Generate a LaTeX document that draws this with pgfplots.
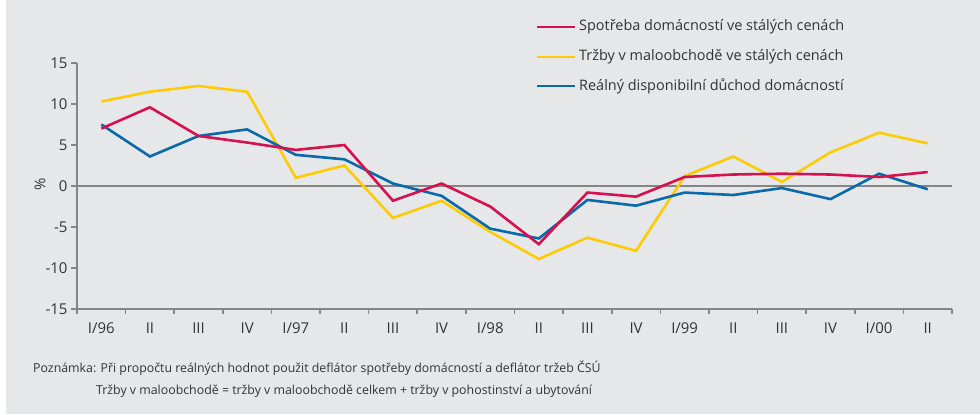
\documentclass[border=0pt]{standalone}
\usepackage{fontspec}
\setmainfont{Open Sans}
\usepackage{pgfplots}
\pgfplotsset{compat=1.18}
\definecolor{bgc}{HTML}{E6E7E9}
\definecolor{cred}{HTML}{D6114F}
\definecolor{cyel}{HTML}{FFCB05}
\definecolor{cblu}{HTML}{0A69A8}
\definecolor{axc}{HTML}{858585}
\begin{document}
\begin{tikzpicture}[x=1bp,y=1bp]
\useasboundingbox (0,0) rectangle (980,414);
\fill[white] (0,0) rectangle (980,414);
\fill[bgc] (6,0) rectangle (980,414);
\begin{axis}[
  at={(77bp,105bp)}, anchor=south west,
  scale only axis, width=875bp, height=246bp,
  xmin=0, xmax=18, ymin=-15, ymax=15,
  axis lines*=left,
  axis line style={axc, line width=2bp, -},
  xtick={0.5,1.5,...,17.5},
  xticklabels={I/96,II,III,IV,I/97,II,III,IV,I/98,II,III,IV,I/99,II,III,IV,I/00,II},
  minor xtick={0,1,...,18},
  ytick={-15,-10,...,15},
  tick align=outside,
  major x tick style={draw=none},
  minor tick length=5bp, major tick length=6bp,
  tick style={axc, line width=1.6bp},
  x tick label style={font=\fontsize{15}{17}\selectfont\color{black!80}, yshift=-4bp},
  y tick label style={font=\fontsize{15}{17}\selectfont\color{black!80}},
  /pgf/number format/assume math mode=true,
  clip=false,
]
\draw[axc, line width=1.3bp] (axis cs:0,0) -- (axis cs:18,0);
\addplot[cyel, line width=2.6bp] coordinates {
(0.5,10.3)(1.5,11.5)(2.5,12.2)(3.5,11.5)(4.5,1.0)(5.5,2.5)(6.5,-3.9)(7.5,-1.8)(8.5,-5.6)(9.5,-8.9)(10.5,-6.3)(11.5,-7.9)(12.5,1.2)(13.5,3.6)(14.5,0.5)(15.5,4.1)(16.5,6.5)(17.5,5.2)};
\addplot[cblu, line width=2.6bp] coordinates {
(0.5,7.5)(1.5,3.6)(2.5,6.1)(3.5,6.9)(4.5,3.8)(5.5,3.25)(6.5,0.3)(7.5,-1.2)(8.5,-5.2)(9.5,-6.4)(10.5,-1.7)(11.5,-2.4)(12.5,-0.8)(13.5,-1.1)(14.5,-0.25)(15.5,-1.6)(16.5,1.5)(17.5,-0.4)};
\addplot[cred, line width=2.6bp] coordinates {
(0.5,7.0)(1.5,9.6)(2.5,6.1)(3.5,5.3)(4.5,4.4)(5.5,5.0)(6.5,-1.8)(7.5,0.3)(8.5,-2.5)(9.5,-7.1)(10.5,-0.8)(11.5,-1.3)(12.5,1.1)(13.5,1.4)(14.5,1.5)(15.5,1.4)(16.5,1.1)(17.5,1.7)};
\end{axis}
\node[rotate=90, font=\fontsize{15}{17}\selectfont, text=black!80, inner sep=0] at (40,230) {\%};
% legend
\begin{scope}[font=\fontsize{14.5}{17}\selectfont, text=black!80]
\draw[cred, line width=2.4bp] (537,387) -- (575,387);
\node[anchor=west, inner sep=0] at (579,387) {Spotřeba domácností ve stálých cenách};
\draw[cyel, line width=2.4bp] (537,357) -- (575,357);
\node[anchor=west, inner sep=0] at (579,357) {Tržby v maloobchodě ve stálých cenách};
\draw[cblu, line width=2.4bp] (537,328) -- (575,328);
\node[anchor=west, inner sep=0] at (579,328) {Reálný disponibilní důchod domácností};
\end{scope}
\begin{scope}[font=\fontsize{12.4}{14}\selectfont, text=black!80]
\node[anchor=west, inner sep=0] at (33,46) {Poznámka: Při propočtu reálných hodnot použit deflátor spotřeby domácností a deflátor tržeb ČSÚ};
\node[anchor=west, inner sep=0] at (96,23) {Tržby v maloobchodě = tržby v maloobchodě celkem + tržby v pohostinství a ubytování};
\end{scope}
\end{tikzpicture}
\end{document}
